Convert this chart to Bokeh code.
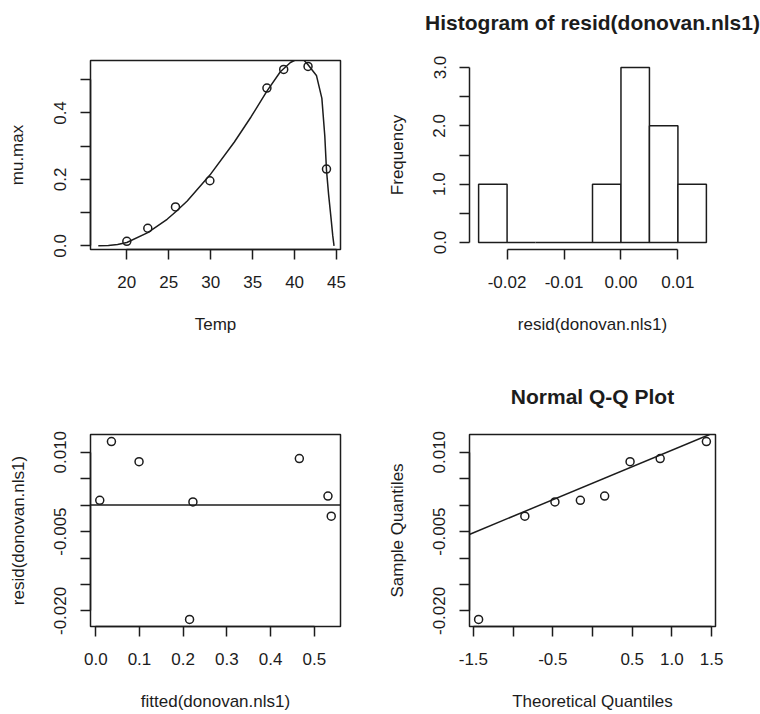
import math
import numpy as np
from bokeh.plotting import figure
from bokeh.models import Range1d, FixedTicker, PrintfTickFormatter, Span, Slope, LinearAxis
from bokeh.layouts import gridplot
from bokeh.embed import file_html
from bokeh.resources import INLINE

# ---------------- data ----------------
# Panel 1: observations and fitted model curve
temp = [20.0, 22.5, 25.8, 29.9, 36.7, 38.7, 41.6, 43.8]
mu_max = [0.0135, 0.053, 0.117, 0.196, 0.475, 0.531, 0.540, 0.231]
curve_temp = [16.6, 17.8, 18.9, 20.0, 22.5, 24.8, 25.8, 27.2, 29.9, 32.8, 34.8,
              36.7, 38.3, 39.5, 40.3, 40.9, 41.6, 42.6, 43.25, 43.6, 43.8,
              44.05, 44.35, 44.55, 44.7]
curve_mu = [0.0, 0.001, 0.004, 0.010, 0.040, 0.080, 0.102, 0.135, 0.213, 0.312,
            0.388, 0.466, 0.524, 0.552, 0.562, 0.565, 0.545, 0.513, 0.444,
            0.330, 0.228, 0.155, 0.081, 0.030, 0.0]

# Panels 2-4: fitted values and residuals of donovan.nls1
fitted = [0.0091, 0.0358, 0.0990, 0.2146, 0.2223, 0.4658, 0.5313, 0.5388]
resid = [0.0009, 0.0120, 0.0082, -0.0216, 0.0006, 0.0088, 0.0017, -0.0021]
hist_breaks = [-0.025, -0.020, -0.015, -0.010, -0.005, 0.000, 0.005, 0.010, 0.015]
theoretical_q = [-1.434, -0.852, -0.473, -0.153, 0.153, 0.473, 0.852, 1.434]

# Tick values / labels
temp_ticks = [20, 25, 30, 35, 40, 45]
mu_ticks_labeled = [0.0, 0.2, 0.4]
mu_ticks_plain = [0.1, 0.3, 0.5]
hist_x_ticks = [-0.02, -0.01, 0.00, 0.01]
freq_ticks_labeled = [0.0, 1.0, 2.0, 3.0]
freq_ticks_plain = [0.5, 1.5, 2.5]
fitted_ticks = [0.0, 0.1, 0.2, 0.3, 0.4, 0.5]
resid_ticks_labeled = [-0.020, -0.005, 0.010]
resid_ticks_plain = [-0.015, -0.010, 0.000, 0.005]
q_ticks_labeled = [-1.5, -0.5, 0.5, 1.0, 1.5]
q_ticks_plain = [-1.0, 0.0]

# ---------------- helpers ----------------
FONT = "Liberation Sans"
INK = "#1c1c1c"


def r_range(vals):
    lo, hi = min(vals), max(vals)
    pad = 0.04 * (hi - lo)
    return Range1d(lo - pad, hi + pad)


def make_fig(w, h, xr, yr, left, right, top, bottom):
    return figure(width=w, height=h, x_range=xr, y_range=yr, tools="",
                  toolbar_location=None, output_backend="svg",
                  min_border_left=left, min_border_right=right,
                  min_border_top=top, min_border_bottom=bottom)


def style(p, boxed=True, ylab_standoff=24):
    p.grid.visible = False
    p.background_fill_color = "white"
    p.border_fill_color = "white"
    p.outline_line_color = INK if boxed else None
    p.outline_line_width = 1.5
    for ax in p.axis:
        ax.axis_line_color = INK
        ax.axis_line_width = 1.5
        ax.major_tick_line_color = INK
        ax.major_tick_line_width = 1.5
        ax.major_tick_out = 10
        ax.major_tick_in = 0
        ax.minor_tick_line_color = INK
        ax.minor_tick_line_width = 1.5
        ax.minor_tick_out = 10
        ax.minor_tick_in = 0
        ax.major_label_text_font = FONT
        ax.major_label_text_font_size = "17px"
        ax.major_label_text_color = INK
        ax.axis_label_text_font = FONT
        ax.axis_label_text_font_size = "17px"
        ax.axis_label_text_font_style = "normal"
        ax.axis_label_text_color = INK
    p.xaxis.major_label_standoff = 16
    p.xaxis.axis_label_standoff = 24
    p.yaxis.major_label_standoff = 14
    p.yaxis.axis_label_standoff = ylab_standoff
    p.yaxis.major_label_orientation = "vertical"


def add_title(p, text):
    ax = LinearAxis(ticker=FixedTicker(ticks=[]), axis_label=text,
                    axis_line_color=None, major_tick_out=0, major_tick_in=0,
                    minor_tick_out=0, minor_tick_in=0,
                    major_label_text_color=None, major_label_standoff=0,
                    axis_label_standoff=27, axis_label_text_font=FONT,
                    axis_label_text_font_size="21px",
                    axis_label_text_font_style="bold",
                    axis_label_text_color=INK)
    p.add_layout(ax, "above")


# ---------------- panel 1: data and fitted curve ----------------
p1 = make_fig(380, 357, Range1d(15.67, 45.47), Range1d(-0.011, 0.558), 87, 40, 60, 106)
p1.line(curve_temp, curve_mu, line_color=INK, line_width=1.5)
p1.scatter(temp, mu_max, marker="circle", size=8, fill_color=None,
           line_color=INK, line_width=1.5)
style(p1, ylab_standoff=25)
p1.xaxis.ticker = FixedTicker(ticks=temp_ticks)
p1.xaxis.bounds = (min(temp_ticks), max(temp_ticks))
p1.xaxis.formatter = PrintfTickFormatter(format="%d")
p1.yaxis.ticker = FixedTicker(ticks=mu_ticks_labeled, minor_ticks=mu_ticks_plain)
p1.yaxis.bounds = (0.0, 0.5)
p1.yaxis.formatter = PrintfTickFormatter(format="%.1f")
p1.xaxis.axis_label = "Temp"
p1.yaxis.axis_label = "mu.max"

# ---------------- panel 2: histogram of residuals ----------------
counts, _ = np.histogram(resid, bins=hist_breaks)
p2 = make_fig(380, 357, r_range(hist_breaks), r_range([0, int(counts.max())]), 86, 45, 59, 108)
p2.quad(left=hist_breaks[:-1], right=hist_breaks[1:], bottom=0, top=counts.tolist(),
        fill_color="white", line_color=INK, line_width=1.5)
style(p2, boxed=False, ylab_standoff=24)
p2.xaxis.ticker = FixedTicker(ticks=hist_x_ticks)
p2.xaxis.bounds = (min(hist_x_ticks), max(hist_x_ticks))
p2.xaxis.formatter = PrintfTickFormatter(format="%.2f")
p2.yaxis.ticker = FixedTicker(ticks=freq_ticks_labeled, minor_ticks=freq_ticks_plain)
p2.yaxis.bounds = (0.0, 3.0)
p2.yaxis.formatter = PrintfTickFormatter(format="%.1f")
p2.xaxis.axis_label = "resid(donovan.nls1)"
p2.yaxis.axis_label = "Frequency"
add_title(p2, "Histogram of resid(donovan.nls1)")

# ---------------- panel 3: residuals vs fitted ----------------
p3 = make_fig(380, 357, r_range(fitted), r_range(resid), 90, 39, 77, 88)
p3.add_layout(Span(location=0, dimension="width", line_color=INK, line_width=1.5))
p3.scatter(fitted, resid, marker="circle", size=8, fill_color=None,
           line_color=INK, line_width=1.5)
style(p3)
p3.xaxis.ticker = FixedTicker(ticks=fitted_ticks)
p3.xaxis.bounds = (0.0, 0.5)
p3.xaxis.formatter = PrintfTickFormatter(format="%.1f")
p3.yaxis.ticker = FixedTicker(ticks=resid_ticks_labeled, minor_ticks=resid_ticks_plain)
p3.yaxis.bounds = (-0.020, 0.010)
p3.yaxis.formatter = PrintfTickFormatter(format="%.3f")
p3.xaxis.axis_label = "fitted(donovan.nls1)"
p3.yaxis.axis_label = "resid(donovan.nls1)"

# ---------------- panel 4: normal Q-Q plot ----------------
sample_q = sorted(resid)
y_q = np.quantile(sample_q, [0.25, 0.75])
x_q = [-0.6744898, 0.6744898]
slope = (y_q[1] - y_q[0]) / (x_q[1] - x_q[0])
intercept = y_q[0] - slope * x_q[0]

p4 = make_fig(380, 357, r_range(theoretical_q), r_range(resid), 89, 41, 76, 88)
p4.add_layout(Slope(gradient=slope, y_intercept=intercept, line_color=INK, line_width=1.5))
p4.scatter(theoretical_q, sample_q, marker="circle", size=8, fill_color=None,
           line_color=INK, line_width=1.5)
style(p4)
p4.xaxis.ticker = FixedTicker(ticks=q_ticks_labeled, minor_ticks=q_ticks_plain)
p4.xaxis.bounds = (-1.5, 1.5)
p4.xaxis.formatter = PrintfTickFormatter(format="%.1f")
p4.yaxis.ticker = FixedTicker(ticks=resid_ticks_labeled, minor_ticks=resid_ticks_plain)
p4.yaxis.bounds = (-0.020, 0.010)
p4.yaxis.formatter = PrintfTickFormatter(format="%.3f")
p4.xaxis.axis_label = "Theoretical Quantiles"
p4.yaxis.axis_label = "Sample Quantiles"
add_title(p4, "Normal Q-Q Plot")

grid = gridplot([[p1, p2], [p3, p4]], toolbar_location=None)

with open("out.html", "w") as f:
    f.write(file_html(grid, INLINE))
